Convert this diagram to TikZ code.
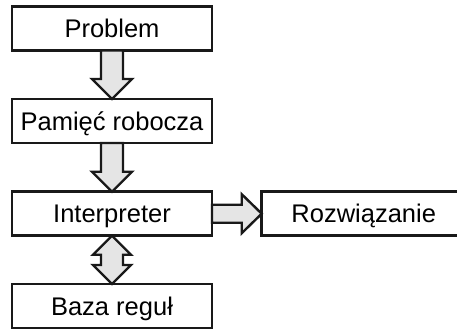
\documentclass[tikz,border=0pt]{standalone}
\usepackage{fontspec}
\setmainfont{Liberation Sans}
\usetikzlibrary{calc}
\definecolor{arrowfill}{gray}{0.9}
\definecolor{inkline}{gray}{0.1}
\begin{document}
\begin{tikzpicture}[x=1pt,y=-1pt,
  stagebox/.style={draw=inkline, line width=2.6pt, fill=white,
    minimum width=200pt, minimum height=44pt, inner sep=0pt, outer sep=0pt,
    font=\fontsize{25.5pt}{29pt}\selectfont, text height=18.2pt, text depth=0pt},
  fatarrow/.style={draw=inkline, line width=2.4pt, fill=arrowfill, line join=miter}]
\useasboundingbox (0,0) rectangle (457,332);
\clip (0,0) rectangle (457,332);

% stages of the inference loop
\node[stagebox] (problem) at (112,28.5) {Problem};
\node[stagebox] (memory) at (112,121) {Pamięć robocza};
\node[stagebox] (interp) at (112,213.7) {Interpreter};
\node[stagebox] (rules) at (112,306) {Baza reguł};
\node[stagebox, minimum width=204pt, anchor=west] (solution) at (261.7,213.7) {Rozwiązanie};

% Problem -> working memory
\draw[fatarrow] ($(problem.south)+(-11,0)$) -- ($(memory.north)+(-11,-20)$)
  -- ($(memory.north)+(-20,-20)$) -- (memory.north) -- ($(memory.north)+(20,-20)$)
  -- ($(memory.north)+(11,-20)$) -- ($(problem.south)+(11,0)$) -- cycle;

% working memory -> interpreter
\draw[fatarrow] ($(memory.south)+(-11,0)$) -- ($(interp.north)+(-11,-20)$)
  -- ($(interp.north)+(-20,-20)$) -- (interp.north) -- ($(interp.north)+(20,-20)$)
  -- ($(interp.north)+(11,-20)$) -- ($(memory.south)+(11,0)$) -- cycle;

% interpreter -> solution
\draw[fatarrow] ($(interp.east)+(0,-9)$) -- ($(solution.west)+(-20,-9)$)
  -- ($(solution.west)+(-20,-19.5)$) -- (solution.west) -- ($(solution.west)+(-20,19.5)$)
  -- ($(solution.west)+(-20,9)$) -- ($(interp.east)+(0,9)$) -- cycle;

% interpreter <-> rule base
\draw[fatarrow] (interp.south) -- ($(interp.south)+(19,19)$) -- ($(interp.south)+(11,19)$)
  -- ($(rules.north)+(11,-19)$) -- ($(rules.north)+(19,-19)$) -- (rules.north)
  -- ($(rules.north)+(-19,-19)$) -- ($(rules.north)+(-11,-19)$)
  -- ($(interp.south)+(-11,19)$) -- ($(interp.south)+(-19,19)$) -- cycle;
\end{tikzpicture}
\end{document}
